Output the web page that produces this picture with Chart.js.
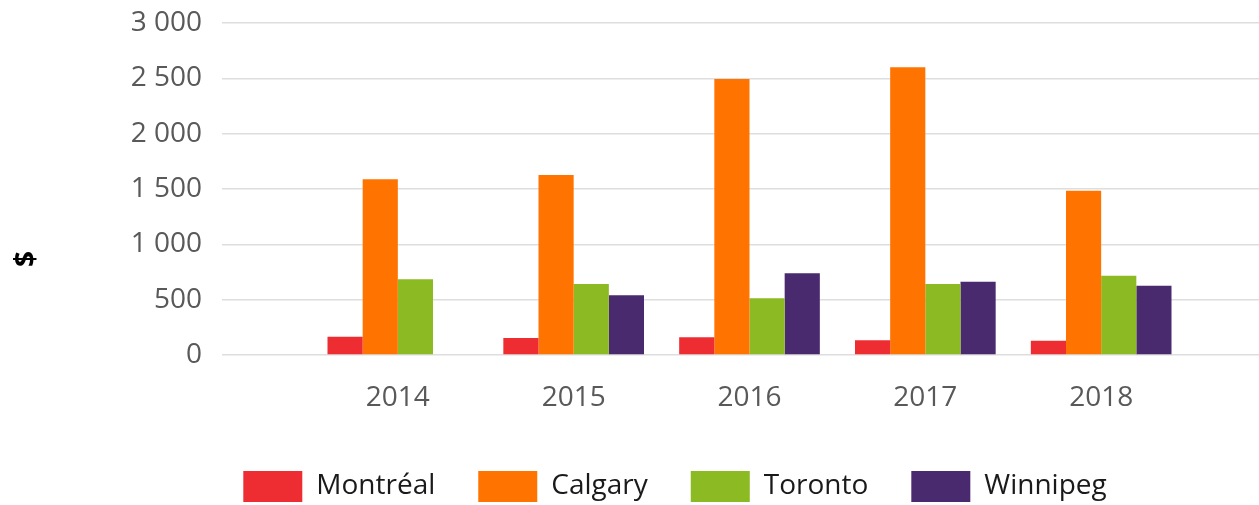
<!DOCTYPE html>
<html>
<head>
<meta charset="utf-8">
<script src="https://cdn.jsdelivr.net/npm/chart.js@4.4.0/dist/chart.umd.min.js"></script>
<style>
  html, body { margin: 0; padding: 0; overflow: hidden; background: #fff; }
  #wrap { position: absolute; left: 0; top: 0; width: 1350px; height: 512px; }
</style>
</head>
<body>
<div id="wrap"><canvas id="grafica"></canvas></div>
<script>
const annees = ['2014', '2015', '2016', '2017', '2018'];
const montreal = [165, 154, 160, 133, 129];
const calgary = [1588, 1626, 2494, 2600, 1485];
const toronto = [684, 642, 512, 642, 717];
const winnipeg = [null, 539, 738, 663, 626];
const yTicks = [0, 500, 1000, 1500, 2000, 2500, 3000];

// une case vide de chaque côté, comme dans l'original
const etiquettes = ['', ...annees, ''];
const pad = arr => [null, ...arr, null];
const police = 'Open Sans';

function formatMilliers(v) {
    return String(v).replace(/\B(?=(\d{3})+(?!\d))/g, ' ');
}

function serie(label, data, couleur) {
    return { label: label, data: pad(data), backgroundColor: couleur, borderWidth: 0 };
}

new Chart(document.getElementById('grafica').getContext('2d'), {
    type: 'bar',
    data: {
        labels: etiquettes,
        datasets: [
            serie('Montréal', montreal, '#EE2D33'),
            serie('Calgary', calgary, '#FF7300'),
            serie('Toronto', toronto, '#8CBA23'),
            serie('Winnipeg', winnipeg, '#4A2A6E')
        ]
    },
    options: {
        responsive: true,
        maintainAspectRatio: false,
        animation: false,
        devicePixelRatio: 1,
        layout: { padding: { top: 6, left: 0, right: 0, bottom: 0 } },
        datasets: { bar: { categoryPercentage: 0.8, barPercentage: 1 } },
        scales: {
            x: {
                offset: false,
                grid: { display: false, drawTicks: false },
                border: { display: false },
                ticks: {
                    autoSkip: false, maxRotation: 0, padding: 26,
                    color: '#595959', font: { family: police, size: 28 }
                },
                afterFit: s => { s.height = 73; }
            },
            y: {
                min: 0, max: 3000,
                afterBuildTicks: s => { s.ticks = yTicks.map(v => ({ value: v })); },
                grid: { color: '#dedede', lineWidth: 1.5, drawTicks: false },
                border: { display: false },
                ticks: {
                    padding: 20, color: '#595959',
                    font: { family: police, size: 28, lineHeight: 6 / 28 },
                    callback: v => formatMilliers(v)
                },
                afterFit: s => { s.width = 178.4; }
            },
            droite: {
                position: 'right', display: true,
                grid: { display: false, drawTicks: false },
                border: { display: false },
                ticks: { display: false },
                afterFit: s => { s.width = 73; }
            }
        },
        plugins: {
            title: {
                display: true, text: '$', position: 'left', color: '#000',
                font: { family: police, size: 28, weight: 'bold' },
                padding: { top: 10, bottom: 0 }
            },
            legend: {
                position: 'bottom',
                labels: {
                    boxWidth: 59, boxHeight: 31, padding: 43,
                    color: '#1a1a1a', font: { family: police, size: 28 }
                }
            },
            tooltip: { enabled: false }
        }
    }
});
</script>
</body>
</html>
